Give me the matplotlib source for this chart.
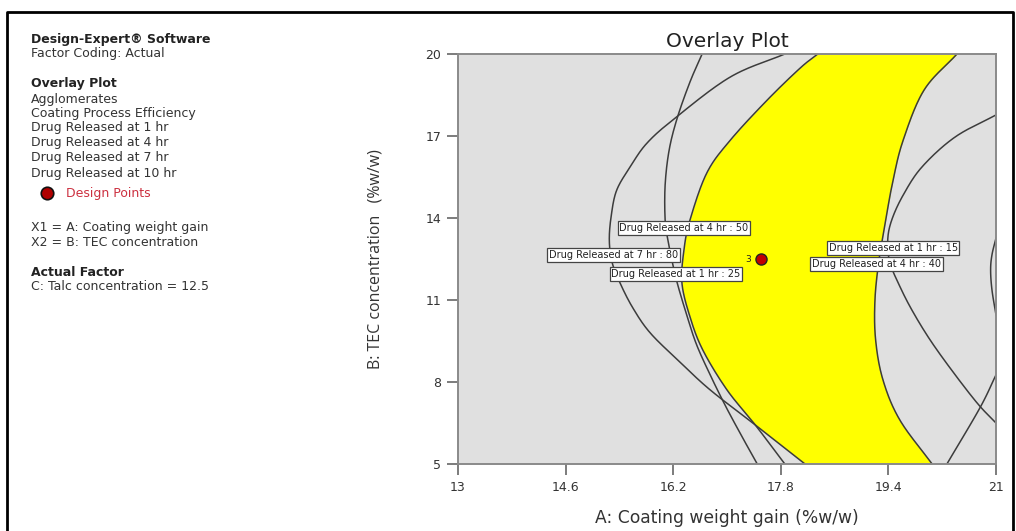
import matplotlib.pyplot as plt
import numpy as np
from matplotlib.lines import Line2D

W, H = 1016, 531

# contour lines of the overlay plot, points listed from top (B=20) to bottom (B=5)
dr7_80_x = [17.86, 17.05, 16.23, 15.81, 15.56, 15.36, 15.28, 15.25, 15.29, 15.41, 15.60, 15.86, 16.30, 16.75, 17.42, 18.16]
dr7_80_y = [20.0, 19.16, 17.66, 16.74, 15.87, 15.02, 14.11, 13.20, 12.39, 11.62, 10.71, 9.79, 8.73, 7.71, 6.43, 5.0]

dr4_50_x = [16.63, 16.45, 16.26, 16.14, 16.08, 16.08, 16.12, 16.18, 16.26, 16.41, 16.55, 16.75, 16.97, 17.21, 17.45]
dr4_50_y = [20.0, 18.98, 17.66, 16.49, 15.21, 13.93, 13.20, 12.46, 11.62, 10.38, 9.35, 8.26, 7.16, 6.06, 5.0]

dr1_25_x = [18.35, 18.09, 17.60, 17.05, 16.70, 16.45, 16.36, 16.33, 16.45, 16.64, 17.00, 17.42, 17.86]
dr1_25_y = [20.0, 19.49, 18.32, 16.85, 15.65, 13.93, 12.83, 11.62, 10.38, 9.17, 7.71, 6.43, 5.0]

dr4_40_x = [20.42, 19.93, 19.62, 19.47, 19.36, 19.26, 19.20, 19.21, 19.32, 19.57, 20.05]
dr4_40_y = [20.0, 18.68, 16.85, 15.39, 13.93, 12.46, 11.0, 9.54, 8.07, 6.61, 5.0]

dr1_15_x = [21.0, 20.39, 19.90, 19.62, 19.45, 19.39, 19.42, 19.56, 19.75, 20.02, 20.36, 20.73, 21.0]
dr1_15_y = [17.77, 16.96, 15.87, 14.84, 13.93, 13.20, 12.39, 11.55, 10.63, 9.54, 8.37, 7.20, 6.50]

other_x = [20.27, 20.76, 21.0]
other_y = [5.0, 7.05, 8.26]

edge_arc_x = [21.0, 20.94, 20.92, 20.94, 21.0]
edge_arc_y = [13.27, 12.65, 12.10, 11.37, 10.45]

contours = [(dr7_80_x, dr7_80_y), (dr4_50_x, dr4_50_y), (dr1_25_x, dr1_25_y),
            (dr4_40_x, dr4_40_y), (dr1_15_x, dr1_15_y), (other_x, other_y),
            (edge_arc_x, edge_arc_y)]

# flag labels: text, A, B
flags = [
    ("Drug Released at 4 hr : 50", 16.36, 13.63),
    ("Drug Released at 7 hr : 80", 15.31, 12.65),
    ("Drug Released at 1 hr : 25", 16.24, 11.95),
    ("Drug Released at 1 hr : 15", 19.47, 12.90),
    ("Drug Released at 4 hr : 40", 19.22, 12.32),
]

design_a, design_b, design_n = 17.5, 12.5, "3"

xticks = [13, 14.6, 16.2, 17.8, 19.4, 21]
yticks = [5, 8, 11, 14, 17, 20]


def smooth(xs, ys, n=24):
    # catmull-rom curve through the listed points, for drawing only
    p = np.column_stack([xs, ys]).astype(float)
    p = np.vstack([2 * p[0] - p[1], p, 2 * p[-1] - p[-2]])
    t = np.linspace(0, 1, n, endpoint=False)[:, None]
    out = []
    for i in range(1, len(p) - 2):
        p0, p1, p2, p3 = p[i - 1], p[i], p[i + 1], p[i + 2]
        out.append(0.5 * ((2 * p1) + (-p0 + p2) * t + (2 * p0 - 5 * p1 + 4 * p2 - p3) * t ** 2
                          + (-p0 + 3 * p1 - 3 * p2 + p3) * t ** 3))
    out.append(p[-2][None, :])
    out = np.vstack(out)
    return out[:, 0], out[:, 1]


def x_at(xs, ys, yg):
    sx, sy = smooth(xs, ys)
    order = np.argsort(sy)
    return np.interp(yg, sy[order], sx[order])


fig = plt.figure(figsize=(W / 100, H / 100), dpi=100)
ax = fig.add_axes([458 / W, 1 - 464 / H, (996 - 458) / W, (464 - 54) / H])
ax.set_facecolor("#e0e0e0")

# sweet spot: right of both left-hand contours, left of the 4 hr : 40 line
yg = np.linspace(5, 20, 800)
left = np.maximum(x_at(dr1_25_x, dr1_25_y, yg), x_at(dr7_80_x, dr7_80_y, yg))
right = x_at(dr4_40_x, dr4_40_y, yg)
ax.fill_betweenx(yg, left, right, where=right > left, color="#ffff00", lw=0)

for cx, cy in contours:
    sx, sy = smooth(cx, cy)
    ax.plot(sx, sy, color="#3c3c3c", lw=1.1)

for txt, fx, fy in flags:
    ax.text(fx, fy, txt, fontsize=7, ha="center", va="center", color="#222222",
            bbox=dict(boxstyle="square,pad=0.18", fc="white", ec="#444444", lw=0.9))

ax.plot(design_a, design_b, "o", ms=8, mfc="#c00000", mec="#222222", mew=1)
ax.text(design_a - 0.14, design_b, design_n, fontsize=6.5, ha="right", va="center", color="#222222")

ax.set_xlim(13, 21)
ax.set_ylim(5, 20)
ax.set_xticks(xticks)
ax.set_xticklabels([f"{t:g}" for t in xticks])
ax.set_yticks(yticks)
ax.tick_params(direction="out", length=8, width=1.2, color="#666666",
               labelcolor="#333333", labelsize=9, pad=4)
for s in ax.spines.values():
    s.set_color("#8a8a8a")
    s.set_linewidth(1.4)

ax.set_title("Overlay Plot", fontsize=14.5, color="#222222", pad=5)
ax.set_xlabel("A: Coating weight gain (%w/w)", fontsize=12.3, color="#333333", labelpad=11)
ax.set_ylabel("B: TEC concentration   (%w/w)", fontsize=11.5, color="#333333", labelpad=30,
              family="Open Sans")

# side panel text
panel = [
    ("Design-Expert® Software", 39, True, "#222222"),
    ("Factor Coding: Actual", 54, False, "#333333"),
    ("Overlay Plot", 84, True, "#222222"),
    ("Agglomerates", 99, False, "#333333"),
    ("Coating Process Efficiency", 114, False, "#333333"),
    ("Drug Released at 1 hr", 128, False, "#333333"),
    ("Drug Released at 4 hr", 143, False, "#333333"),
    ("Drug Released at 7 hr", 158, False, "#333333"),
    ("Drug Released at 10 hr", 173, False, "#333333"),
    ("X1 = A: Coating weight gain", 228, False, "#333333"),
    ("X2 = B: TEC concentration", 242, False, "#333333"),
    ("Actual Factor", 272, True, "#222222"),
    ("C: Talc concentration = 12.5", 287, False, "#333333"),
]
for txt, py, bold, col in panel:
    fig.text(31 / W, 1 - py / H, txt, fontsize=9, va="center", color=col,
             fontweight="bold" if bold else "normal")
fig.add_artist(Line2D([47 / W], [1 - 193 / H], marker="o", ms=9, mfc="#b00000",
                      mec="#111111", mew=1.2, ls=""))
fig.text(66 / W, 1 - 193 / H, "Design Points", fontsize=9, va="center", color="#cc3040")

# outer frame
fx = [7 / W, 7 / W, 1013 / W, 1013 / W]
fy = [0, 1 - 12 / H, 1 - 12 / H, 0]
fig.add_artist(Line2D(fx, fy, color="black", lw=2))

fig.savefig("out.png", dpi=100)
